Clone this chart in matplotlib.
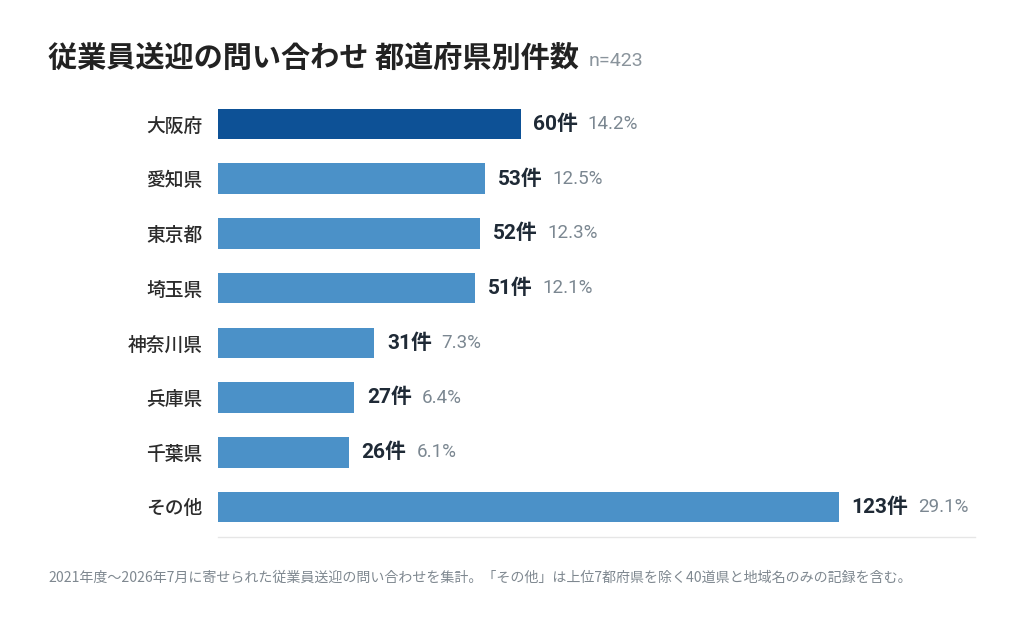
import matplotlib.pyplot as plt

plt.rcParams['font.family'] = ['Noto Sans CJK JP', 'DejaVu Sans']

prefectures = ["大阪府", "愛知県", "東京都", "埼玉県", "神奈川県", "兵庫県", "千葉県", "その他"]
counts = [60, 53, 52, 51, 31, 27, 26, 123]
shares = [14.2, 12.5, 12.3, 12.1, 7.3, 6.4, 6.1, 29.1]
total = 423

dark_blue = "#0d5196"
light_blue = "#4b91c8"
num_font = ['Roboto', 'Noto Sans CJK JP']

fig = plt.figure(figsize=(10.24, 6.25), dpi=100)
# axes placed in pixel terms: bars start at x=218, baseline at y=537
ax = fig.add_axes([218 / 1024, (625 - 537) / 625, (975 - 218) / 1024, (537 - 94) / 625])

colors = [dark_blue] + [light_blue] * (len(counts) - 1)
ypos = list(range(len(counts)))
ax.barh(ypos, counts, height=0.56, color=colors, edgecolor="none")

ax.set_xlim(0, 150)
ax.set_ylim(7.55, -0.55)

ax.set_yticks(ypos)
ax.set_yticklabels(prefectures, fontsize=13.5, color="#2b2b2b", fontweight="medium")
ax.tick_params(axis="y", length=0, pad=11)
ax.set_xticks([])
for side in ["top", "right", "left"]:
    ax.spines[side].set_visible(False)
ax.spines["bottom"].set_color("#e6e6e6")
ax.spines["bottom"].set_linewidth(1)

for y, c, s in zip(ypos, counts, shares):
    t = ax.annotate(f"{c}件", xy=(c, y), xytext=(9, 0), textcoords="offset points",
                    va="center", ha="left", fontsize=15, fontweight="bold", color="#1f2a36",
                    family=num_font)
    ax.annotate(f"{s}%", xy=(1, 0.5), xycoords=t, xytext=(7, 0), textcoords="offset points",
                va="center", ha="left", fontsize=13.5, color="#7b8791", family=num_font)

title = fig.text(48 / 1024, 1 - 58 / 625, "従業員送迎の問い合わせ 都道府県別件数",
                 fontsize=21, fontweight="bold", color="#222222", va="center", ha="left")
fig.text(0, 0, f"n={total}", fontsize=14, color="#8a949c", va="center", ha="left",
         family=num_font)
# move n= label next to title
fig.canvas.draw()
bb = title.get_window_extent()
fig.texts[-1].set_position(((bb.x1 + 10) / 1024, 1 - 61 / 625))

fig.text(48 / 1024, 1 - 578 / 625,
         "2021年度〜2026年7月に寄せられた従業員送迎の問い合わせを集計。「その他」は上位7都府県を除く40道県と地域名のみの記録を含む。",
         fontsize=10.1, color="#7f8890", va="center", ha="left")

fig.savefig("out.png", dpi=100, facecolor="white")
